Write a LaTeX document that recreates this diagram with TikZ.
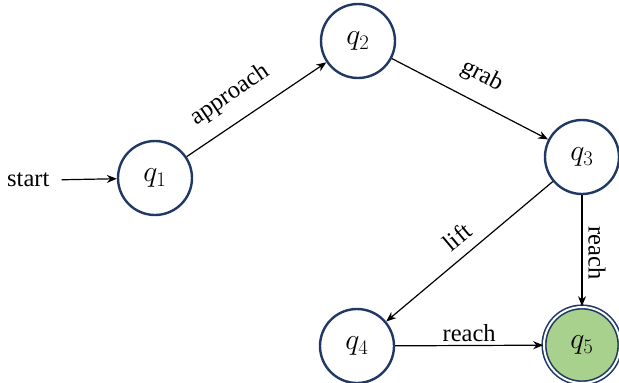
\documentclass[tikz,border=0pt]{standalone}
\usepackage{graphicx}
\usepackage{fontspec}
\setmainfont[Ligatures=NoCommon]{Liberation Serif}
\usetikzlibrary{arrows.meta}
\definecolor{navy}{RGB}{31,56,100}
\definecolor{accgreen}{RGB}{169,209,142}
\newcommand{\stlbl}[1]{\scalebox{1.2}{$#1$}}
\begin{document}
\begin{tikzpicture}[x=1pt,y=-1pt,
  state/.style={circle,draw=navy,line width=2.4pt,minimum size=74pt,inner sep=0pt,font=\fontsize{24}{28}\selectfont},
  accept/.style={state,double=white,double distance=2pt,line width=1.6pt,fill=accgreen,minimum size=76pt},
  edge/.style={draw=black,line width=1.2pt,-{Stealth[length=10pt,width=8pt]}},
  lbl/.style={font=\fontsize{24.5}{28}\selectfont,inner sep=2pt}]
\useasboundingbox (0,0) rectangle (619,383);
\node[state] (q1) at (155,178) {\stlbl{q_1}};
\node[state] (q2) at (358,41) {\stlbl{q_2}};
\node[state] (q3) at (582,157) {\stlbl{q_3}};
\node[state] (q4) at (357,346) {\stlbl{q_4}};
\node[accept] (q5) at (582,345) {\stlbl{q_5}};
\node[lbl,anchor=west,inner sep=0pt] (start) at (7,180) {start};
\draw[edge,shorten <=12pt] (start.east) -- (q1);
\draw[edge] (q1) -- (q2) node[lbl,midway,sloped,above,yshift=13pt,xshift=-14pt] {approach};
\draw[edge] (q2) -- (q3) node[lbl,midway,sloped,above,yshift=12pt,xshift=0pt] {grab};
\draw[edge] (q3.south) -- (q5.north);
\node[lbl,rotate=-90] (reachv) at (597,253) {reach};
\draw[edge] (q3) -- (q4) node[lbl,midway,sloped,above,yshift=8pt,xshift=0pt] {lift};
\draw[edge] (q4) -- (q5) node[lbl,midway,above,yshift=1pt] {reach};
\end{tikzpicture}
\end{document}
